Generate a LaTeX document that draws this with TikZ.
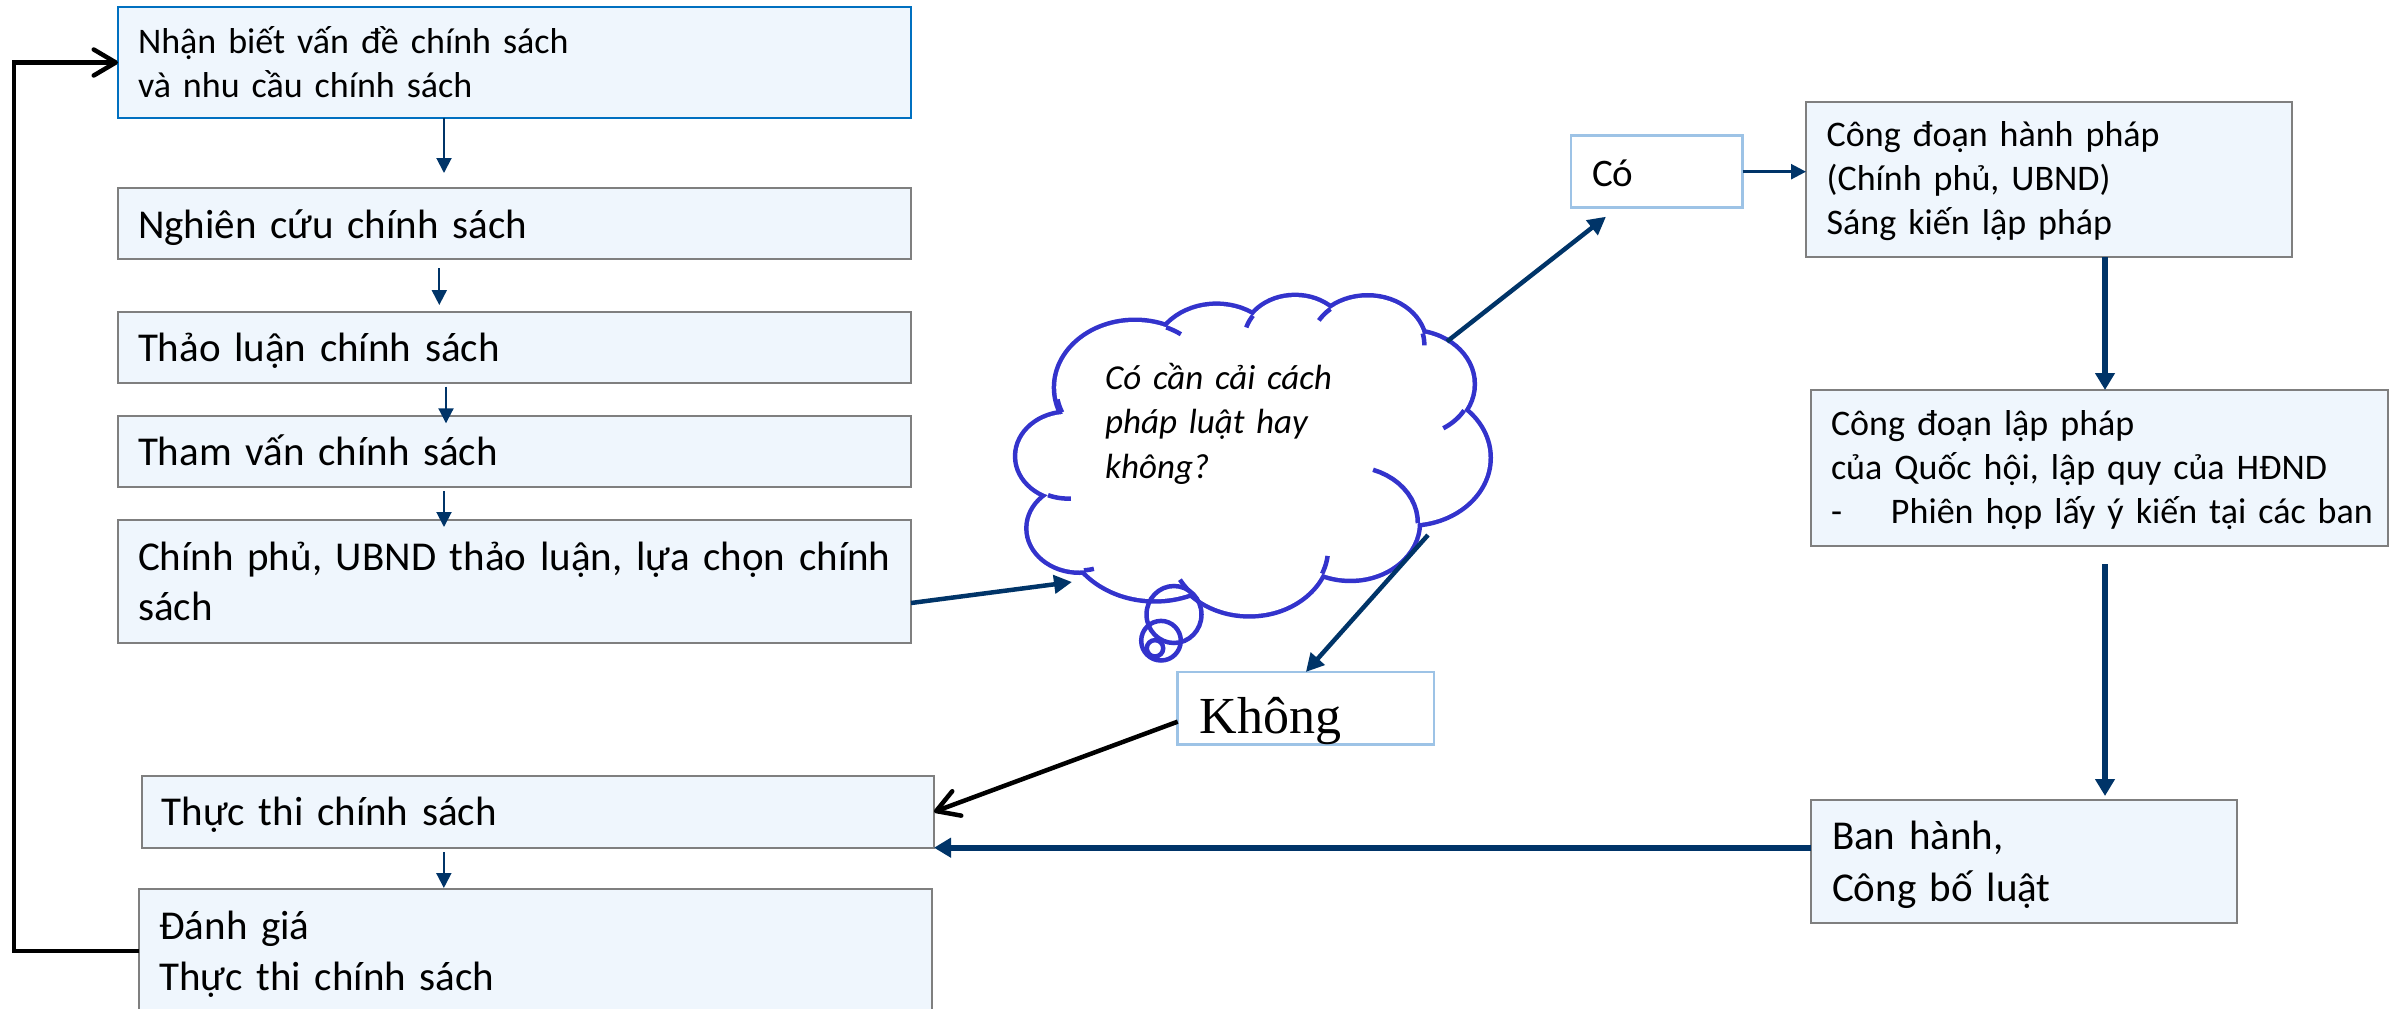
\documentclass[tikz,border=0pt]{standalone}
\usepackage{fontspec}
\setmainfont{Carlito}
\newfontfamily\serifK{Liberation Serif}
\usetikzlibrary{arrows.meta}

\definecolor{navy}{RGB}{0,52,104}
\definecolor{boxfill}{RGB}{239,246,253}
\definecolor{boxline}{RGB}{127,127,127}
\definecolor{topline}{RGB}{0,112,192}
\definecolor{pale}{RGB}{157,195,230}
\definecolor{cloudblue}{RGB}{51,51,204}

\begin{document}
\begin{tikzpicture}[
		x=1pt, y=-1pt
		,box/.style={draw=boxline, line width=2pt, fill=boxfill, anchor=north west, align=left, inner xsep=20pt, inner ysep=0pt, outer sep=0pt}
		,answer/.style={draw=pale, line width=2.5pt, fill=white, anchor=north west, align=left, inner ysep=0pt, outer sep=0pt}
		,large/.style={font=\fontsize{41}{50.6}\selectfont}
		,normal/.style={font=\fontsize{36}{44}\selectfont}
		,flow/.style={draw=navy, line width=2pt, -{Triangle[length=15pt,width=15pt]}}
		,midflow/.style={draw=navy, line width=4.5pt, -{Triangle[length=18pt,width=18pt]}}
		,bigflow/.style={draw=navy, line width=6pt, -{Triangle[length=17pt,width=19pt]}}
		,loopback/.style={draw=black, line width=4.5pt, line join=miter, -{Straight Barb[round,length=22pt,width=26pt]}}
		,puff/.style={draw=cloudblue, line width=4.5pt}
	]
	\clip (0,0) rectangle (2399,1009);

	% thought cloud
	\foreach \cx/\cy/\rx/\ry in {1135/387.5/78.8/65.5, 1216.5/357.7/62.2/51.8, 1295.1/339.5/50.9/42.4, 1367.6/344.5/56.7/47.0, 1410.4/384.2/62.2/51.9, 1409.5/457.8/79.0/65.7, 1350.3/522.6/67.5/56.1, 1249.3/548.5/78.8/65.7, 1154.9/524.0/90.1/75.2, 1079.5/528.3/50.9/42.2, 1068.0/456.2/50.7/42.4}
		\draw[puff, line width=9pt] (\cx,\cy) ellipse [x radius=\rx, y radius=\ry];
	\foreach \cx/\cy/\rx/\ry in {1135/387.5/78.8/65.5, 1216.5/357.7/62.2/51.8, 1295.1/339.5/50.9/42.4, 1367.6/344.5/56.7/47.0, 1410.4/384.2/62.2/51.9, 1409.5/457.8/79.0/65.7, 1350.3/522.6/67.5/56.1, 1249.3/548.5/78.8/65.7, 1154.9/524.0/90.1/75.2, 1079.5/528.3/50.9/42.2, 1068.0/456.2/50.7/42.4}
		\fill[white] (\cx,\cy) ellipse [x radius=\rx, y radius=\ry];
	\fill[white] (1135,387.5) -- (1216.5,357.7) -- (1295.1,339.5) -- (1367.6,344.5) -- (1410.4,384.2) -- (1409.5,457.8) -- (1350.3,522.6) -- (1249.3,548.5) -- (1154.9,524.0) -- (1079.5,528.3) -- (1068.0,456.2) -- cycle;
	\foreach \cx/\cy/\rx/\ry/\a/\b in {1068.0/456.2/50.7/42.4/86.7/113.2, 1079.5/528.3/50.9/42.2/73.6/85.1, 1249.3/548.5/78.8/65.7/137.6/151.7, 1249.3/548.5/78.8/65.7/6.5/22.5, 1350.3/522.6/67.5/56.1/-70.3/0.6, 1410.4/384.2/62.2/51.9/30.3/58.1, 1367.6/344.5/56.7/47.0/-13.7/1.1, 1367.6/344.5/56.7/47.0/-149.2/-131.0, 1295.1/339.5/50.9/42.4/-163.5/-145.8, 1135/387.5/78.8/65.5/-66.7/-54.4, 1135/387.5/78.8/65.5/157.7/169.5}
		\draw[puff] plot[domain=\a:\b, samples=12] ({\cx+\rx*cos(\x)}, {\cy+\ry*sin(\x)});
	\draw[puff] (1174,614.5) ellipse [x radius=27.5, y radius=28.5];
	\draw[puff] (1161,640.7) ellipse [x radius=19.8, y radius=19.8];
	\draw[puff] (1155,648.3) ellipse [x radius=8.2, y radius=8.2];
	\node[font=\itshape\fontsize{35}{44.5}\selectfont, align=left, text width=300pt, anchor=base west, inner sep=0pt] (q) at (1105,389) {Có cần cải cách\\pháp luật hay\\không?};
	\coordinate (qin) at (1072,582);
	\coordinate (qyes) at (1447,341.5);
	\coordinate (qno) at (1428,535);

	% left column
	\node[box, normal, draw=topline, text width=753pt, minimum height=110.4pt, text height=0pt, text depth=19pt] (B1) at (118,7.3) {Nhận biết vấn đề chính sách\\và nhu cầu chính sách};
	\node[box, large, text width=753pt, minimum height=71.5pt, text height=30.2pt, text depth=0pt] (B2) at (118,187.5) {Nghiên cứu chính sách};
	\node[box, large, text width=753pt, minimum height=71pt, text height=29pt, text depth=0pt] (B3) at (118,311.7) {Thảo luận chính sách};
	\node[box, large, text width=753pt, minimum height=70.7pt, text height=28.8pt, text depth=0pt] (B4) at (118,416) {Tham vấn chính sách};
	\node[box, large, text width=753pt, minimum height=123pt, text height=0pt, text depth=23pt] (B5) at (118,520) {\mbox{Chính phủ, UBND thảo luận, lựa chọn chính}\\sách};
	\node[box, large, text width=752.3pt, minimum height=71.7pt, text height=26.4pt, text depth=0pt] (TT) at (141.7,776) {Thực thi chính sách};
	\node[box, large, text width=752.7pt, minimum height=123pt, text height=0pt, text depth=22.8pt] (DG) at (139.3,889.3) {Đánh giá\\Thực thi chính sách};

	% right column
	\node[answer, font=\fontsize{39}{48}\selectfont, inner xsep=21pt, text width=129.7pt, minimum height=72pt, text height=28.6pt, text depth=0pt] (Co) at (1571,135.7) {Có};
	\node[answer, font=\serifK\fontsize{52}{60}\selectfont, inner xsep=22pt, text width=212.3pt, minimum height=72.3pt, text height=51.6pt, text depth=0pt] (Kh) at (1177.7,672) {Không};
	\node[box, normal, inner xsep=20.7pt, text width=444.6pt, minimum height=155.6pt, text height=0pt, text depth=65.6pt] (HP) at (1806,101.7) {Công đoạn hành pháp\\(Chính phủ, UBND)\\Sáng kiến lập pháp};
	\node[box, normal, text width=537pt, minimum height=155.7pt, text height=0pt, text depth=65.6pt] (LP) at (1811,390) {Công đoạn lập pháp\\của Quốc hội, lập quy của HĐND\\\mbox{\makebox[60pt][l]{-}Phiên họp lấy ý kiến tại các ban}};
	\node[box, font=\fontsize{41}{52}\selectfont, inner xsep=21pt, text width=384pt, minimum height=123pt, text height=0pt, text depth=25pt] (BH) at (1811,800) {Ban hành,\\Công bố luật};

	% connectors
	\draw[flow, shorten >=14.5pt] ([xshift=-70.5pt]B1.south) -- ([xshift=-70.5pt]B2.north);
	\draw[flow, shorten <=9.3pt, shorten >=6.7pt] ([xshift=-75.2pt]B2.south) -- ([xshift=-75.2pt]B3.north);
	\draw[flow, shorten <=4pt, shorten >=-7.3pt] ([xshift=-68.5pt]B3.south) -- ([xshift=-68.5pt]B4.north);
	\draw[flow, shorten <=4.3pt, shorten >=-7pt] ([xshift=-70.5pt]B4.south) -- ([xshift=-70.5pt]B5.north);
	\draw[flow, shorten <=4.3pt, shorten >=1.3pt] ([xshift=-94pt]TT.south) -- ([xshift=-94pt]TT.south |- DG.north);
	\draw[midflow] ([yshift=-21.5pt]B5.east) -- (qin);
	\draw[midflow] (qyes) -- ([xshift=35pt,yshift=-9pt]Co.south west);
	\draw[midflow] (qno) -- (Kh.north);
	\draw[flow, line width=2.5pt] (Co.east) -- (Co.east -| HP.west);
	\draw[bigflow] ([xshift=56pt]HP.south) -- ([xshift=56pt]HP.south |- LP.north);
	\draw[bigflow, shorten >=4pt] ([xshift=5.5pt,yshift=-18.3pt]LP.south) -- ([xshift=5.5pt]LP.south |- BH.north);
	\draw[bigflow] (BH.west |- TT.south east) -- (TT.south east);
	\draw[loopback] ([yshift=-13.5pt]Kh.west) -- (TT.east);
	\coordinate (back) at (14,500);
	\draw[loopback] (DG.west) -- (DG.west -| back) -- (B1.west -| back) -- (B1.west);
\end{tikzpicture}
\end{document}
